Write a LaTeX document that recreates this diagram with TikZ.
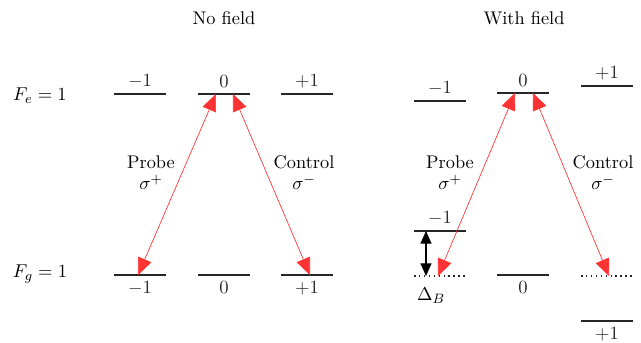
\documentclass[tikz,border=0pt]{standalone}
\usepackage{amsmath}
\usetikzlibrary{arrows.meta}

\begin{document}
\begin{tikzpicture}[x=0.0207cm, y=-0.0207cm,
  font=\fontsize{10.8pt}{12.4pt}\selectfont,
  level/.style={line width=0.9pt, black!85},
  shifted/.style={line width=0.9pt, dotted, black!85},
  beam/.style={thin, red!80, {Triangle[length=10pt,width=8.5pt]}-{Triangle[length=10pt,width=8.5pt]}},
  split/.style={thick, black, {Triangle[length=7.5pt,width=6.5pt]}-{Triangle[length=7.5pt,width=6.5pt]}}]
  \useasboundingbox (0,0) rectangle (641,343);

  % Titles
  \node (nofield) at (224,18) {No field};
  \node (withfield) at (524,18) {With field};

  % Hyperfine levels
  \node (Fe) at (40,96) {$F_e = 1$};
  \node (Fg) at (40,274) {$F_g = 1$};

  % No field: excited
  \draw[level] (114,94) -- (166,94) node[midway, above] {$-1$};
  \draw[level] (198,94) -- (250,94) node[midway, above] {$0$};
  \draw[level] (281,94) -- (333,94) node[midway, above] {$+1$};
  % No field: ground
  \draw[level] (114,275) -- (166,275) node[midway, below] {$-1$};
  \draw[level] (198,275) -- (250,275) node[midway, below] {$0$};
  \draw[level] (281,275) -- (333,275) node[midway, below] {$+1$};

  % With field: excited
  \draw[level] (414,101) -- (466,101) node[midway, above] {$-1$};
  \draw[level] (497,93) -- (549,93) node[midway, above] {$0$};
  \draw[level] (581,86) -- (633,86) node[midway, above] {$+1$};
  % With field: ground (dotted = unshifted position)
  \draw[level] (414,231) -- (466,231) node[midway, above] {$-1$};
  \draw[shifted] (414,276) -- (466,276);
  \draw[level] (497,275) -- (549,275) node[midway, below] {$0$};
  \draw[shifted] (581,276) -- (633,276);
  \draw[level] (581,321) -- (633,321) node[midway, below] {$+1$};

  % Arrow end points
  \coordinate (pL1) at (216,94);
  \coordinate (pL2) at (138,275);
  \coordinate (cL1) at (233,94);
  \coordinate (cL2) at (310,275);
  \coordinate (pR1) at (515,93);
  \coordinate (pR2) at (438,276);
  \coordinate (cR1) at (533,93);
  \coordinate (cR2) at (609,276);

  % Couplings
  \draw[beam] (pL1) -- (pL2);
  \draw[beam] (cL1) -- (cL2);
  \draw[beam] (pR1) -- (pR2);
  \draw[beam] (cR1) -- (cR2);

  \node[align=center] (probeL) at (151,173) {Probe\\$\sigma^+$};
  \node[align=center] (ctrlL) at (304,173) {Control\\$\sigma^-$};
  \node[align=center] (probeR) at (450,173) {Probe\\$\sigma^+$};
  \node[align=center] (ctrlR) at (603,173) {Control\\$\sigma^-$};

  % Zeeman shift
  \coordinate (zTop) at (426,231);
  \coordinate (zBot) at (426,276);
  \draw[split] (zTop) -- (zBot);
  \node (dB) at (431,296) {$\Delta_B$};
\end{tikzpicture}
\end{document}
